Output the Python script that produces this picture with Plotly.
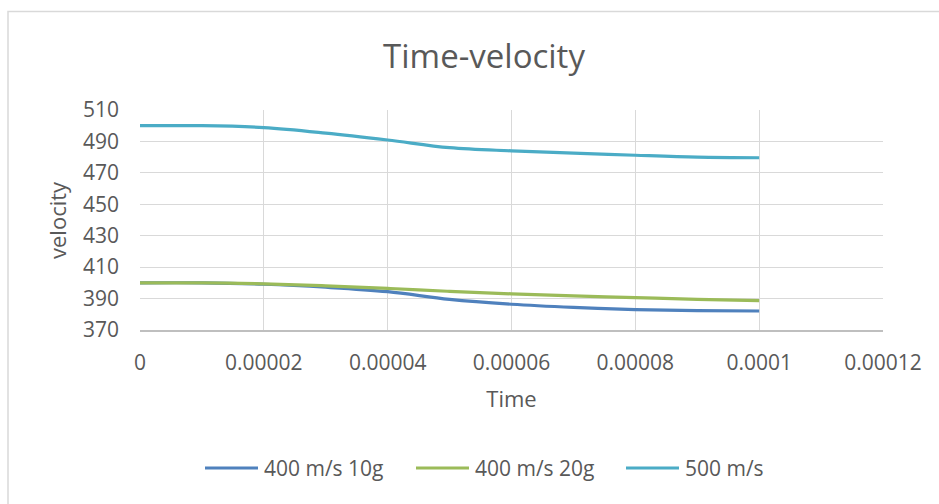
import plotly.graph_objects as go

time = [0, 0.00001, 0.00002, 0.00003, 0.00004, 0.00005, 0.00006, 0.00007, 0.00008, 0.00009, 0.0001]
v_400_10g = [400.0, 400.0, 399.1, 397.2, 394.4, 389.5, 386.4, 384.4, 383.0, 382.3, 382.1]
v_400_20g = [400.0, 400.0, 399.4, 398.1, 396.5, 394.6, 393.0, 391.7, 390.6, 389.5, 388.7]
v_500 = [500.0, 500.0, 498.8, 495.3, 490.9, 486.0, 484.0, 482.6, 481.2, 480.0, 479.6]

series_names = ["400 m/s 10g", "400 m/s 20g", "500 m/s"]
series_colors = ["#4f81bd", "#9bbb59", "#4bacc6"]

x_tickvals = [0, 0.00002, 0.00004, 0.00006, 0.00008, 0.0001, 0.00012]
x_ticktext = ["0", "0.00002", "0.00004", "0.00006", "0.00008", "0.0001", "0.00012"]
y_tickvals = [370, 390, 410, 430, 450, 470, 490, 510]

FONT = "Open Sans"
TXT = "#595959"

# layout helpers (pixel -> paper coordinates)
PL, PR, PT, PB = 140, 883, 110, 330
def px(x):
    return (x - PL) / (PR - PL)
def py(y):
    return (PB - y) / (PB - PT)

fig = go.Figure()
for name, vals, col in zip(series_names, [v_400_10g, v_400_20g, v_500], series_colors):
    fig.add_trace(go.Scatter(
        x=time, y=vals, name=name, mode="lines", showlegend=False,
        line=dict(color=col, width=3.2, shape="spline", smoothing=1.0),
    ))

shapes = [dict(type="rect", xref="paper", yref="paper",
               x0=px(8), x1=1.3, y0=-1.0, y1=py(11.5),
               line=dict(color="#d9d9d9", width=1.5), fillcolor="rgba(0,0,0,0)",
               layer="below")]
annotations = [dict(text="velocity", xref="paper", yref="paper", x=px(57), y=py(220),
                    xanchor="center", yanchor="middle", textangle=-90, showarrow=False,
                    font=dict(family=FONT, size=22, color=TXT))]

# custom legend (Excel style: long line sample followed by label)
legend_x = [205, 416, 626]
legend_y = 468
for lx, name, col in zip(legend_x, series_names, series_colors):
    shapes.append(dict(type="line", xref="paper", yref="paper",
                       x0=px(lx), x1=px(lx + 53), y0=py(legend_y), y1=py(legend_y),
                       line=dict(color=col, width=3.2)))
    annotations.append(dict(text=name, xref="paper", yref="paper",
                            x=px(lx + 57), y=py(legend_y), xanchor="left", yanchor="middle",
                            showarrow=False, font=dict(family=FONT, size=21, color=TXT)))

fig.update_layout(
    width=939, height=504,
    margin=dict(l=PL, r=939 - PR, t=PT, b=504 - PB),
    paper_bgcolor="white", plot_bgcolor="white",
    font=dict(family=FONT, color=TXT, size=18),
    title=dict(text="Time-velocity", x=px(484), xanchor="center", xref="paper",
               y=1 - 56 / 504, yanchor="middle", yref="container",
               font=dict(family=FONT, size=33, color=TXT)),
    showlegend=False,
    shapes=shapes,
    annotations=annotations,
)

fig.update_xaxes(
    range=[0, 0.00012], tickvals=x_tickvals, ticktext=x_ticktext,
    showgrid=True, gridcolor="#d9d9d9", gridwidth=1.3,
    showline=True, linecolor="#bfbfbf", linewidth=1.5, mirror=False,
    zeroline=False, ticks="", ticklabelstandoff=13,
    tickfont=dict(family=FONT, size=21, color=TXT),
    title=dict(text="Time", font=dict(family=FONT, size=22, color=TXT), standoff=17),
)
fig.update_yaxes(
    range=[370, 510], tickvals=y_tickvals,
    showgrid=True, gridcolor="#d9d9d9", gridwidth=1.3,
    showline=False, zeroline=False, ticks="", ticklabelstandoff=20,
    tickfont=dict(family=FONT, size=21, color=TXT),
)

fig.write_html("out.html")
